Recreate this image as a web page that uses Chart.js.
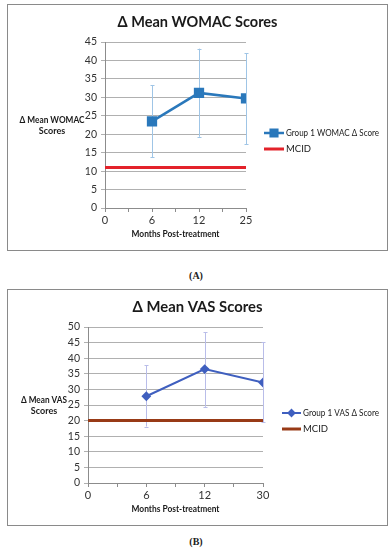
<!DOCTYPE html>
<html><head><meta charset="utf-8">
<script src="https://cdn.jsdelivr.net/npm/chart.js@4"></script>
<style>
body{margin:0;background:#fff;width:392px;height:550px;position:relative;overflow:hidden;font-family:Lato,sans-serif;}
.frame{position:absolute;left:7px;width:381px;border:1px solid #8a8a8a;box-sizing:border-box;background:#fff;}
.frame canvas{display:block;}
.cap{position:absolute;left:0;width:392px;text-align:center;font:bold 10px "Liberation Serif",serif;color:#222;}
</style></head><body>
<div class="frame" style="top:4px;height:247px"><canvas id="c1" width="379" height="245"></canvas></div>
<div class="cap" style="top:270px">(A)</div>
<div class="frame" style="top:289px;height:237px"><canvas id="c2" width="379" height="235"></canvas></div>
<div class="cap" style="top:536px">(B)</div>
<script>
// ---- Data: chart A (WOMAC) ----
const womacMonths = ['0', '6', '12', '25'];
const womacMean = [null, 23.5, 31.2, 29.7];
const womacLow  = [null, 13.7, 19.3, 17.3];
const womacHigh = [null, 33.3, 43.2, 42.0];
const womacMCID = 11;
const womacYTicks = [0, 45, 5];

// ---- Data: chart B (VAS) ----
const vasMonths = ['0', '6', '12', '30'];
const vasMean = [null, 27.8, 36.5, 32.2];
const vasLow  = [null, 18.1, 24.4, 19.4];
const vasHigh = [null, 37.7, 48.4, 45.1];
const vasMCID = 20;
const vasYTicks = [0, 50, 5];

const customPlugin = {
  id: 'custom',
  beforeDatasetsDraw(chart, args, o) {
    const ctx = chart.ctx, xs = chart.scales.x, ys = chart.scales.y;
    ctx.save();
    ctx.strokeStyle = o.errColor; ctx.lineWidth = 1;
    o.low.forEach((lo, i) => {
      if (lo == null) return;
      const x = Math.round(xs.getPixelForValue(i)) + 0.5;
      const y1 = ys.getPixelForValue(lo), y2 = ys.getPixelForValue(o.high[i]);
      ctx.beginPath();
      ctx.moveTo(x, y1); ctx.lineTo(x, y2);
      ctx.moveTo(x - 2, Math.round(y1) + 0.5); ctx.lineTo(x + 2, Math.round(y1) + 0.5);
      ctx.moveTo(x - 2, Math.round(y2) + 0.5); ctx.lineTo(x + 2, Math.round(y2) + 0.5);
      ctx.stroke();
    });
    ctx.restore();
  },
  afterDraw(chart, args, o) {
    const ctx = chart.ctx, ca = chart.chartArea;
    ctx.save();
    ctx.fillStyle = '#1a1a1a';
    ctx.textAlign = 'center'; ctx.textBaseline = 'middle';
    // chart title, centered on the whole frame
    ctx.font = 'bold 16px Lato';
    ctx.fillText(o.title, chart.width / 2, 17, o.titleW);
    ctx.font = 'bold 9px Lato';
    // x axis title
    ctx.fillText(o.xTitle, (ca.left + ca.right) / 2, ca.bottom + 26, 88);
    // y axis title (horizontal, two lines)
    o.yTitle.forEach((t, i) => ctx.fillText(t, o.yTitleX, (ca.top + ca.bottom) / 2 - 5 + i * 11.5, o.yTitleW));
    // legend
    ctx.textAlign = 'left';
    ctx.font = '9.5px Lato';
    chart.data.datasets.forEach((ds, i) => {
      const y = (ca.top + ca.bottom) / 2 + o.legY + i * 16;
      ctx.strokeStyle = ds.borderColor; ctx.lineWidth = ds.borderWidth;
      ctx.beginPath(); ctx.moveTo(o.legX, y); ctx.lineTo(o.legX + o.legW, y); ctx.stroke();
      if (ds.pointRadius > 0) {
        Chart.helpers.drawPoint(ctx, {pointStyle: ds.pointStyle, rotation: 0, borderWidth: 1, radius: ds.pointRadius * 0.85},
          o.legX + o.legW / 2, y);
        ctx.fillStyle = ds.pointBackgroundColor;
        ctx.fill();
      }
      ctx.fillStyle = '#1a1a1a';
      ctx.fillText(ds.label, o.legX + o.legW + 2, y, i === 0 ? o.legTextW : undefined);
    });
    ctx.restore();
  }
};

function makeChart(id, cfg) {
  const pts = cfg.mean.map((v, i) => v == null ? null : {x: i, y: v}).filter(p => p);
  const last = cfg.months.length - 1;
  return new Chart(document.getElementById(id), {
    type: 'line',
    data: {
      datasets: [
        {label: cfg.seriesLabel, data: pts, borderColor: cfg.color, backgroundColor: cfg.color,
         pointBackgroundColor: cfg.color, pointBorderColor: cfg.color,
         borderWidth: cfg.lineW, pointStyle: cfg.pointStyle, pointRadius: cfg.pointR, tension: 0},
        {label: 'MCID', data: [{x: 0, y: cfg.mcid}, {x: last, y: cfg.mcid}],
         borderColor: cfg.mcidColor, borderWidth: 3, pointRadius: 0, tension: 0}
      ]
    },
    options: {
      responsive: false, animation: false,
      layout: {padding: {left: 0, right: cfg.padRight, top: 37, bottom: 0}},
      plugins: {
        legend: {display: false}, tooltip: {enabled: false}, title: {display: false},
        custom: {low: cfg.low, high: cfg.high, errColor: cfg.errColor,
                 title: cfg.title, titleW: cfg.titleW,
                 xTitle: 'Months Post-treatment', yTitle: cfg.yTitle, yTitleX: cfg.yTitleX, yTitleW: cfg.yTitleW,
                 legX: cfg.legX, legW: cfg.legW, legY: 8, legTextW: cfg.legTextW}
      },
      scales: {
        x: {type: 'linear', min: 0, max: last,
            afterFit: s => { s.height = 42; },
            border: {color: '#8c8c8c'},
            grid: {drawOnChartArea: false, color: '#8c8c8c', tickLength: 4},
            ticks: {stepSize: 0.5, autoSkip: false, padding: 2, maxRotation: 0,
                    color: '#333', font: {family: 'Lato', size: 11},
                    callback: v => Number.isInteger(v) ? cfg.months[v] : ''}},
        y: {min: cfg.yTicks[0], max: cfg.yTicks[1],
            afterFit: s => { s.width = cfg.yW; },
            border: {color: '#8c8c8c'},
            grid: {color: '#b0b0b0', tickLength: 4},
            ticks: {stepSize: cfg.yTicks[2], autoSkip: false, padding: 4, color: '#333',
                    font: {family: 'Lato', size: 10.5}}}
      }
    },
    plugins: [customPlugin]
  });
}

makeChart('c1', {
  months: womacMonths, mean: womacMean, low: womacLow, high: womacHigh, mcid: womacMCID,
  yTicks: womacYTicks, title: 'Δ Mean WOMAC Scores', titleW: 160, seriesLabel: 'Group 1 WOMAC Δ Score',
  color: '#2a78bb', errColor: '#9fc5e6', mcidColor: '#e3222a', lineW: 2.5,
  pointStyle: 'rect', pointR: 5.5, yTitle: ['Δ Mean WOMAC', 'Scores'], yTitleX: 44, yTitleW: 65,
  yW: 97, padRight: 141, legX: 256, legW: 20, legTextW: 93
});
makeChart('c2', {
  months: vasMonths, mean: vasMean, low: vasLow, high: vasHigh, mcid: vasMCID,
  yTicks: vasYTicks, title: 'Δ Mean VAS Scores', titleW: 130, seriesLabel: 'Group 1 VAS Δ Score',
  color: '#3f5fbf', errColor: '#b9bde9', mcidColor: '#983a16', lineW: 2,
  pointStyle: 'rectRot', pointR: 3.5, yTitle: ['Δ Mean VAS', 'Scores'], yTitleX: 36, yTitleW: 46,
  yW: 80, padRight: 124, legX: 274, legW: 19, legTextW: 76
});
</script>
</body></html>
